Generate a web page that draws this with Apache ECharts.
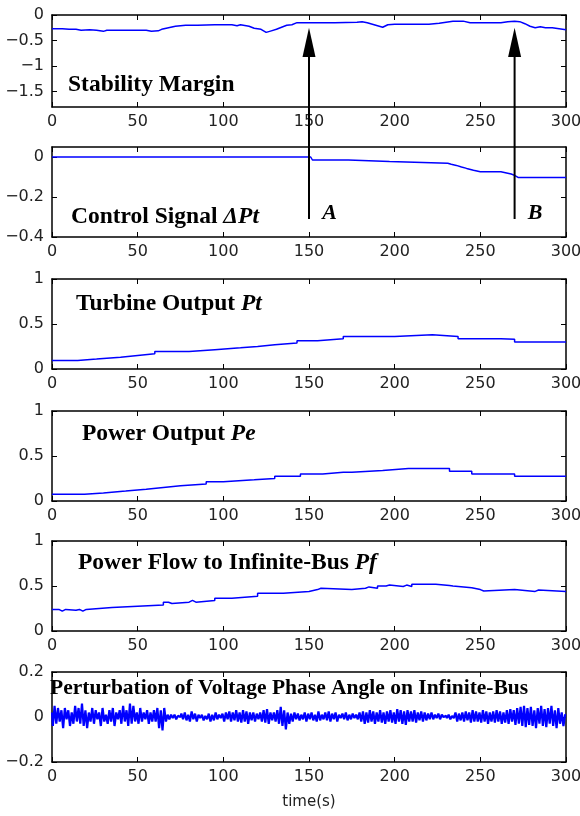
<!DOCTYPE html>
<html>
<head>
<meta charset="utf-8">
<script src="https://cdn.jsdelivr.net/npm/echarts@6/dist/echarts.min.js"></script>
<style>
html, body { margin: 0; padding: 0; background: #fff; }
#c { width: 580px; height: 816px; }
</style>
</head>
<body>
<div id="c"></div>
<script>
// ---- data ----
var marginT = [0, 4, 5, 6, 10, 14, 15, 17, 18, 22, 26, 30, 32, 40, 50, 55, 58, 62, 64, 68, 72, 78, 85, 95, 100, 105, 108, 110, 115, 118, 122, 125, 128, 131, 134, 137, 140, 143, 150, 165, 178, 181, 184, 187, 190, 193, 196, 200, 210, 220, 226, 230, 234, 240, 244, 255, 262, 266, 270, 273, 276, 279, 282, 285, 288, 292, 296, 300]
var marginV = [-0.27, -0.27, -0.3, -0.27, -0.28, -0.28, -0.3, -0.3, -0.28, -0.29, -0.3, -0.32, -0.3, -0.3, -0.3, -0.3, -0.32, -0.31, -0.28, -0.25, -0.22, -0.2, -0.2, -0.19, -0.19, -0.19, -0.21, -0.19, -0.22, -0.26, -0.28, -0.34, -0.31, -0.28, -0.24, -0.2, -0.19, -0.15, -0.15, -0.15, -0.14, -0.13, -0.15, -0.18, -0.21, -0.24, -0.19, -0.18, -0.18, -0.18, -0.16, -0.14, -0.12, -0.12, -0.15, -0.15, -0.15, -0.13, -0.12, -0.13, -0.17, -0.22, -0.25, -0.23, -0.25, -0.25, -0.27, -0.29]

var ctrlT = [0, 151, 152, 173, 174, 197, 198, 231, 233, 236, 239, 242, 246, 250, 262, 263, 268, 270, 272, 300]
var ctrlV = [0, 0, -0.015, -0.015, -0.022, -0.022, -0.031, -0.031, -0.036, -0.042, -0.05, -0.057, -0.066, -0.074, -0.074, -0.082, -0.085, -0.092, -0.102, -0.102]

var ptT = [0, 15, 26, 40, 50, 60, 80, 95, 110, 120, 130, 143, 155, 170, 200, 222, 237, 255, 256, 258, 259, 262, 270, 300]
var ptV = [0.095, 0.11, 0.13, 0.15, 0.17, 0.195, 0.215, 0.235, 0.25, 0.27, 0.29, 0.315, 0.335, 0.36, 0.38, 0.36, 0.335, 0.32, 0.335, 0.315, 0.335, 0.33, 0.3, 0.3]

var peT = [0, 17, 18, 19, 30, 43, 55, 65, 75, 90, 100, 118, 130, 134, 135, 145, 158, 170, 171, 175, 193, 208, 209, 211, 212, 215, 217, 218, 232, 245, 270, 300]
var peV = [0.075, 0.09, 0.075, 0.09, 0.11, 0.13, 0.15, 0.17, 0.19, 0.215, 0.235, 0.25, 0.275, 0.26, 0.275, 0.3, 0.32, 0.33, 0.32, 0.34, 0.36, 0.375, 0.36, 0.375, 0.36, 0.36, 0.38, 0.36, 0.33, 0.3, 0.275, 0.275]

var pfT = [0, 4, 6, 8, 14, 16, 18, 20, 35, 50, 65, 68, 70, 80, 82, 84, 95, 105, 120, 135, 150, 155, 157, 175, 183, 185, 190, 195, 197, 205, 207, 210, 222, 224, 232, 234, 245, 250, 252, 270, 282, 284, 300]
var pfV = [0.24, 0.22, 0.24, 0.23, 0.24, 0.22, 0.24, 0.26, 0.275, 0.29, 0.32, 0.305, 0.32, 0.34, 0.32, 0.34, 0.365, 0.385, 0.42, 0.44, 0.46, 0.475, 0.46, 0.475, 0.49, 0.475, 0.5, 0.51, 0.495, 0.51, 0.495, 0.52, 0.52, 0.505, 0.5, 0.48, 0.46, 0.445, 0.46, 0.44, 0.455, 0.44, 0.44]

// one sample per second, t = 0 .. 300
var noiseV = [
	0.02, -0.04, 0.05, -0.03, 0.04, -0.02, 0.03, -0.05, 0.04, -0.01,
	0.03, -0.04, 0.02, -0.03, 0.05, -0.02, 0.04, -0.03, 0.06, -0.04,
	0.03, -0.05, 0.02, -0.02, 0.04, -0.03, 0.03, -0.01, 0.02, -0.04,
	0.04, -0.02, 0.01, -0.03, 0.03, -0.02, 0.04, -0.04, 0.02, -0.01,
	0.03, -0.03, 0.05, -0.02, 0.03, -0.04, 0.06, -0.03, 0.05, -0.02,
	0.02, -0.03, 0.04, -0.02, 0.02, -0.01, 0.03, -0.03, 0.02, -0.02,
	0.03, -0.02, 0.04, -0.05, 0.03, -0.06, 0.04, -0.02, 0.01, -0.01,
	0.01, -0.005, 0.01, -0.01, 0.005, 0, 0.015, -0.01, 0.02, -0.015,
	0.01, -0.02, 0.025, -0.01, 0.015, -0.02, 0.01, -0.005, 0.01, -0.015,
	0.005, -0.01, 0.015, -0.02, 0.01, -0.015, 0.02, -0.01, 0.01, -0.005,
	0.015, -0.02, 0.02, -0.01, 0.025, -0.02, 0.02, -0.015, 0.03, -0.02,
	0.02, -0.025, 0.03, -0.02, 0.025, -0.03, 0.02, -0.015, 0.02, -0.02,
	0.015, -0.01, 0.02, -0.02, 0.03, -0.025, 0.035, -0.03, 0.02, -0.015,
	0.02, -0.02, 0.03, -0.03, 0.045, -0.04, 0.03, -0.055, 0.02, -0.03,
	0.015, -0.02, 0.02, -0.01, 0.015, -0.015, 0.01, -0.01, 0.02, -0.02,
	0.015, -0.01, 0.02, -0.015, 0.01, -0.02, 0.025, -0.015, 0.01, -0.01,
	0.02, -0.015, 0.025, -0.02, 0.015, -0.01, 0.02, -0.02, 0.01, -0.005,
	0.015, -0.01, 0.02, -0.015, 0.01, -0.01, 0.015, -0.005, 0.01, -0.01,
	0.02, -0.02, 0.025, -0.03, 0.02, -0.025, 0.03, -0.02, 0.025, -0.03,
	0.02, -0.02, 0.03, -0.025, 0.02, -0.03, 0.025, -0.02, 0.03, -0.025,
	0.02, -0.03, 0.035, -0.02, 0.03, -0.03, 0.025, -0.035, 0.03, -0.02,
	0.025, -0.02, 0.03, -0.025, 0.02, -0.015, 0.025, -0.02, 0.02, -0.015,
	0.015, -0.01, 0.02, -0.01, 0.01, -0.005, 0.015, -0.01, 0.01, 0,
	0.005, -0.005, 0.01, -0.01, 0.005, -0.005, 0.02, -0.02, 0.015, -0.015,
	0.02, -0.02, 0.025, -0.015, 0.02, -0.025, 0.03, -0.02, 0.025, -0.02,
	0.02, -0.025, 0.03, -0.02, 0.025, -0.03, 0.02, -0.02, 0.025, -0.025,
	0.03, -0.02, 0.025, -0.03, 0.02, -0.025, 0.03, -0.03, 0.035, -0.02,
	0.03, -0.035, 0.04, -0.03, 0.045, -0.04, 0.05, -0.045, 0.04, -0.035,
	0.045, -0.04, 0.03, -0.05, 0.04, -0.03, 0.05, -0.04, 0.035, -0.045,
	0.04, -0.03, 0.05, -0.04, 0.03, -0.05, 0.04, -0.03, 0.02, -0.04,
	0.01
]

var xTicks = [0, 50, 100, 150, 200, 250, 300]
var yTicks = [[0, -0.5, -1, -1.5], [0, -0.2, -0.4], [0, 0.5, 1], [0, 0.5, 1], [0, 0.5, 1], [-0.2, 0, 0.2]]
var yRange = [[-1.8, 0], [-0.4, 0.05], [0, 1], [0, 1], [0, 1], [-0.2, 0.2]]

var titles = [
	'Stability Margin',
	'Control Signal {i|ΔPt}',
	'Turbine Output {i|Pt}',
	'Power Output {i|Pe}',
	'Power Flow to Infinite-Bus {i|Pf}',
	'Perturbation of Voltage Phase Angle on Infinite-Bus'
]

var arrowT = [150, 270]		// A, B
var arrowLabel = ['A', 'B']

// ---- layout ----
var gridTop = [15, 147, 279, 411, 541, 672]
var gridH = [92, 90, 90, 90, 90, 90]
var titlePos = [[68, 73], [71, 205], [76, 292], [82, 422], [78, 551], [50, 677]]
var titleSize = [23.5, 23.5, 23.5, 23.5, 23.5, 21.5]

var blue = '#0000ff'
var labelFont = 'DejaVu Sans'
var serif = 'Liberation Serif'

function pairs(ts, vs) {
	return ts.map(function (t, i) { return [t, vs[i]] })
}

function minus(v) {
	return String(v).replace('-', '\u2212')
}

var lines = [
	pairs(marginT, marginV),
	pairs(ctrlT, ctrlV),
	pairs(ptT, ptV),
	pairs(peT, peV),
	pairs(pfT, pfV),
	noiseV.map(function (v, i) { return [i, v] })
]
var stepped = [false, false, 'end', 'end', 'end', 'middle']

var option = {
	animation: false,
	backgroundColor: '#fff',
	grid: [], xAxis: [], yAxis: [], series: [], title: []
}

var axLine = { show: true, onZero: false, lineStyle: { color: '#000', width: 1.5 } }
var tick = { show: true, inside: true, length: 5, lineStyle: { color: '#000', width: 1 } }

for (var k = 0; k < 6; k++) {
	option.grid.push({
		left: 52, right: 14, top: gridTop[k], height: gridH[k],
		outerBoundsMode: 'none'
	})

	// bottom and top x axes
	option.xAxis.push({
		type: 'value', gridIndex: k, position: 'bottom',
		min: 0, max: 300, interval: 50,
		axisLine: axLine, axisTick: tick, splitLine: { show: false },
		axisLabel: { margin: 7, color: '#222', fontFamily: labelFont, fontSize: 16 },
		name: k == 5 ? 'time(s)' : '',
		nameLocation: 'middle', nameGap: 33,
		nameTextStyle: { color: '#222', fontFamily: labelFont, fontSize: 15 }
	})
	option.xAxis.push({
		type: 'value', gridIndex: k, position: 'top',
		min: 0, max: 300, interval: 50,
		axisLine: axLine, axisTick: tick, splitLine: { show: false },
		axisLabel: { show: false }
	})

	// left and right y axes
	option.yAxis.push({
		type: 'value', gridIndex: k, position: 'left',
		min: yRange[k][0], max: yRange[k][1],
		axisLine: axLine, splitLine: { show: false },
		axisTick: { show: true, inside: true, length: 5, lineStyle: { color: '#000' }, customValues: yTicks[k] },
		axisLabel: { margin: 8, color: '#222', fontFamily: labelFont, fontSize: 16, customValues: yTicks[k], formatter: minus }
	})
	option.yAxis.push({
		type: 'value', gridIndex: k, position: 'right',
		min: yRange[k][0], max: yRange[k][1],
		axisLine: axLine, splitLine: { show: false },
		axisTick: { show: true, inside: true, length: 5, lineStyle: { color: '#000' }, customValues: yTicks[k] },
		axisLabel: { show: false }
	})

	option.series.push({
		type: 'line',
		xAxisIndex: 2 * k, yAxisIndex: 2 * k,
		data: lines[k],
		step: stepped[k],
		showSymbol: false, symbol: 'none',
		lineStyle: { color: blue, width: k == 5 ? 2.2 : 1.5 },
		z: 3
	})

	var st = titleSize[k]
	option.title.push({
		text: titles[k], left: titlePos[k][0], top: titlePos[k][1], padding: 0,
		textStyle: {
			fontFamily: serif, fontWeight: 'bold', fontSize: st, color: '#000',
			rich: { i: { fontFamily: serif, fontWeight: 'bold', fontStyle: 'italic', fontSize: st, color: '#000' } }
		}
	})
}

var chart = echarts.init(document.getElementById('c'))
chart.setOption(option)

// arrows A and B: from the control-signal panel up into the stability-margin panel
var graphic = []
arrowT.forEach(function (t, i) {
	var tip = chart.convertToPixel({ xAxisIndex: 0, yAxisIndex: 0 }, [t, -0.25])
	var base = chart.convertToPixel({ xAxisIndex: 0, yAxisIndex: 0 }, [t, -0.82])
	var tail = chart.convertToPixel({ xAxisIndex: 2, yAxisIndex: 2 }, [t, -0.31])
	var lab = chart.convertToPixel({ xAxisIndex: 2, yAxisIndex: 2 }, [t + 12, -0.28])

	graphic.push({
		type: 'line', z: 10,
		shape: { x1: tail[0], y1: tail[1], x2: base[0], y2: base[1] },
		style: { stroke: '#000', lineWidth: 2 }
	})
	graphic.push({
		type: 'polygon', z: 10,
		shape: { points: [[tip[0], tip[1]], [base[0] - 6.5, base[1]], [base[0] + 6.5, base[1]]] },
		style: { fill: '#000' }
	})
	graphic.push({
		type: 'text', z: 10, x: lab[0], y: lab[1],
		style: {
			text: arrowLabel[i], fill: '#000', align: 'center', verticalAlign: 'middle',
			font: 'italic bold 22px "Liberation Serif"'
		}
	})
})
chart.setOption({ graphic: graphic })
</script>
</body>
</html>
